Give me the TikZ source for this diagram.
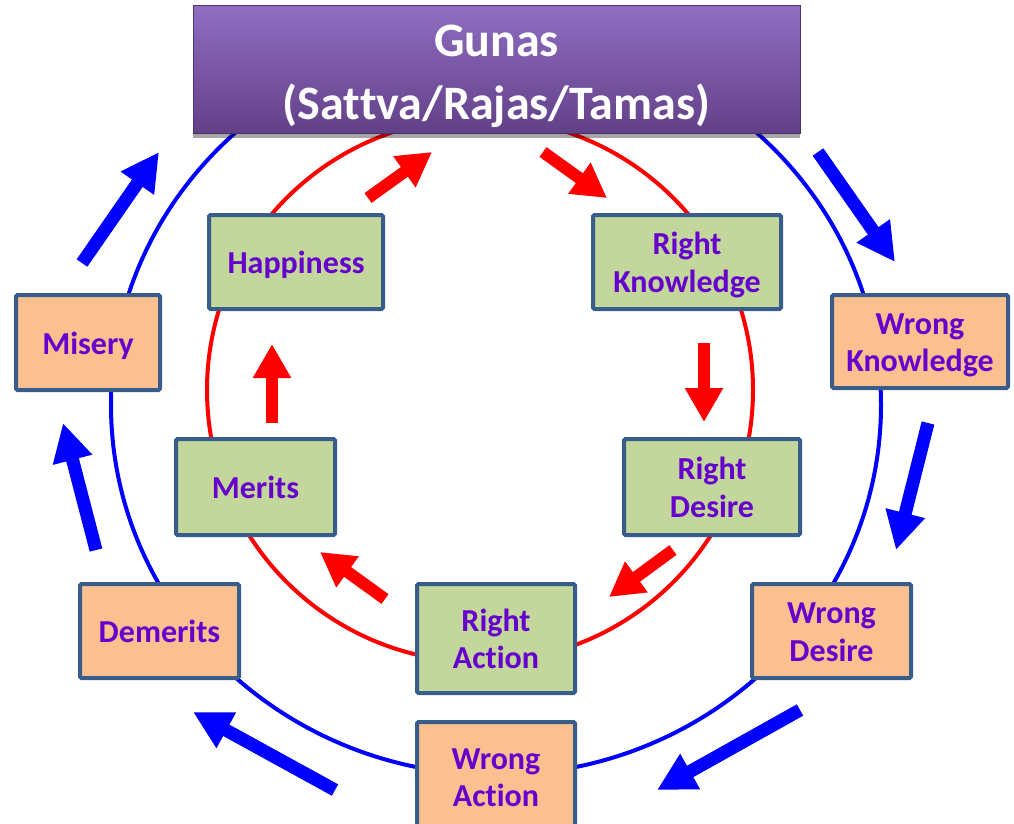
\documentclass[tikz,border=0pt]{standalone}
\usepackage{fontspec}
\setmainfont{Carlito}[Ligatures=NoCommon]
\usetikzlibrary{arrows.meta, shadows}

\definecolor{txtpurple}{RGB}{102,0,204}
\definecolor{boxgreen}{RGB}{195,214,155}
\definecolor{boxorange}{RGB}{250,192,144}
\definecolor{boxline}{RGB}{56,93,138}
\definecolor{gunastop}{RGB}{144,110,194}
\definecolor{gunasbot}{RGB}{98,64,136}

% 方框文字:居中多行,略向下移(保持原高度)
\newcommand{\bxt}[2][-4pt]{\raisebox{#1}[\height][\depth]{\begin{tabular}{@{}c@{}}#2\end{tabular}}}

\begin{document}
\begin{tikzpicture}[x=1pt, y=-1pt, % 1单位=1pt,y轴向下
    box/.style={rectangle, line width=4pt, draw=boxline, rounded corners=1.5pt,
      inner sep=0pt, text=txtpurple,
      font=\fontsize{32}{37.5}\selectfont\bfseries},
    rightbox/.style={box, fill=boxgreen}, % 内圈:绿色
    wrongbox/.style={box, fill=boxorange}, % 外圈:橙色
    redarrow/.style={draw=red, line width=12pt, -{Triangle[length=34pt, width=36pt]}},
    bluearrow/.style={draw=blue, line width=13pt, -{Triangle[length=38pt, width=38pt]}}
  ]
    \clip (0, 0) rectangle (1014, 823); % 画布大小

    % 1. 两个圆环
    \coordinate (cin) at (480, 390);
    \coordinate (cout) at (496, 405);
    \draw [red, line width=4pt] (cin) ellipse [x radius=273, y radius=272];
    \draw [blue, line width=4pt] (cout) ellipse [x radius=385, y radius=370];

    % 2. 顶部 Gunas 方框
    \node [rectangle, % 方框
       top color=gunastop, bottom color=gunasbot, % 紫色渐变
       draw=gunasbot!80!black, line width=1pt,
       drop shadow={shadow xshift=0pt, shadow yshift=-5pt, opacity=0.35, fill=black},
       minimum width=607pt, minimum height=128pt,
       inner sep=0pt, text=white,
       font=\fontsize{48}{63}\selectfont\bfseries
      ] (gunas) at (496.5, 69) {\bxt[-6pt]{Gunas\\(Sattva/Rajas/Tamas)}};

    % 3. 内圈方框(Right)
    \node [rightbox, minimum width=174pt, minimum height=94pt] (hap) at (296, 262) {\bxt{Happiness}};
    \node [rightbox, minimum width=188pt, minimum height=94pt] (rk) at (687, 262) {\bxt{Right\\Knowledge}};
    \node [rightbox, minimum width=176pt, minimum height=96pt] (rd) at (712, 487) {\bxt{Right\\Desire}};
    \node [rightbox, minimum width=158pt, minimum height=109pt] (ra) at (496, 638.5) {\bxt{Right\\Action}};
    \node [rightbox, minimum width=159pt, minimum height=96pt] (mer) at (255.5, 487) {\bxt{Merits}};

    % 4. 外圈方框(Wrong)
    \node [wrongbox, minimum width=176pt, minimum height=93pt] (wk) at (920, 341.5) {\bxt{Wrong\\Knowledge}};
    \node [wrongbox, minimum width=159pt, minimum height=94pt] (wd) at (831.5, 631) {\bxt{Wrong\\Desire}};
    \node [wrongbox, minimum width=158pt, minimum height=109pt] (wa) at (496, 776.5) {\bxt{Wrong\\Action}};
    \node [wrongbox, minimum width=159pt, minimum height=94pt] (dem) at (159.5, 631) {\bxt{Demerits}};
    \node [wrongbox, minimum width=144pt, minimum height=95pt] (mis) at (88, 342.5) {\bxt{Misery}};

    % 5. 红色箭头(内圈,顺时针)
    \coordinate (r1a) at (368, 198); \coordinate (r1b) at (432, 152);
    \coordinate (r2a) at (543, 152); \coordinate (r2b) at (607, 198);
    \coordinate (r3a) at (704, 343); \coordinate (r3b) at (704, 422);
    \coordinate (r4a) at (673, 550); \coordinate (r4b) at (609, 597);
    \coordinate (r5a) at (385, 599); \coordinate (r5b) at (320, 552);
    \coordinate (r6a) at (272, 423); \coordinate (r6b) at (272, 344);
    \draw [redarrow] (r1a) -- (r1b);
    \draw [redarrow] (r2a) -- (r2b);
    \draw [redarrow] (r3a) -- (r3b);
    \draw [redarrow] (r4a) -- (r4b);
    \draw [redarrow] (r5a) -- (r5b);
    \draw [redarrow] (r6a) -- (r6b);

    % 6. 蓝色箭头(外圈,顺时针)
    \coordinate (b1a) at (82, 263); \coordinate (b1b) at (159, 152);
    \coordinate (b2a) at (818, 152); \coordinate (b2b) at (895, 262);
    \coordinate (b3a) at (928, 423); \coordinate (b3b) at (896, 550);
    \coordinate (b4a) at (800, 710); \coordinate (b4b) at (657, 790);
    \coordinate (b5a) at (335, 790); \coordinate (b5b) at (193, 712);
    \coordinate (b6a) at (96, 550); \coordinate (b6b) at (63, 423);
    \draw [bluearrow] (b1a) -- (b1b);
    \draw [bluearrow] (b2a) -- (b2b);
    \draw [bluearrow] (b3a) -- (b3b);
    \draw [bluearrow] (b4a) -- (b4b);
    \draw [bluearrow] (b5a) -- (b5b);
    \draw [bluearrow] (b6a) -- (b6b);
\end{tikzpicture}
\end{document}
